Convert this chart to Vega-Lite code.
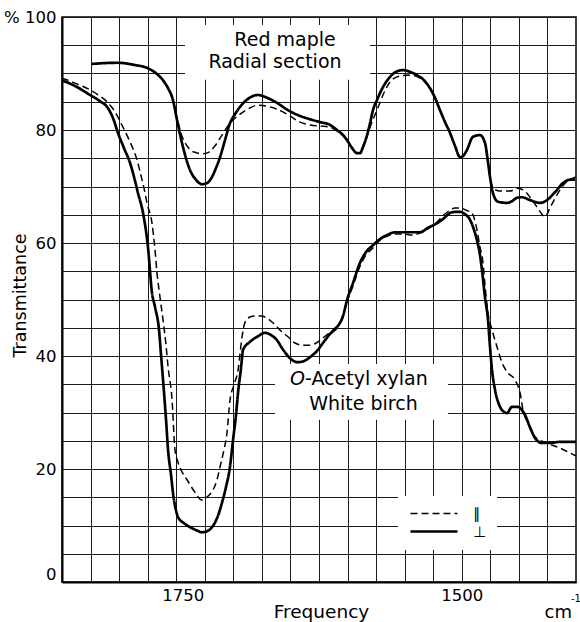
{
  "$schema": "https://vega.github.io/schema/vega-lite/v6.json",
  "autosize": {"type": "none"},
  "width": 514,
  "height": 565,
  "padding": {"left": 62, "top": 17, "right": 4, "bottom": 40},
  "background": "white",
  "config": {
    "font": "DejaVu Sans",
    "view": {"stroke": "black", "strokeWidth": 1.5},
    "axis": {
      "domainColor": "black",
      "domainWidth": 2,
      "gridColor": "#1a1a1a",
      "gridWidth": 1,
      "gridOpacity": 1,
      "ticks": false,
      "labelColor": "black",
      "labelFont": "DejaVu Sans",
      "labelFontSize": 16.5,
      "titleFont": "DejaVu Sans",
      "titleColor": "black",
      "titleFontWeight": "normal",
      "labelOverlap": false,
      "labelFlush": false
    },
    "legend": {
      "orient": "none",
      "legendX": 336,
      "legendY": 479,
      "fillColor": "white",
      "padding": 10,
      "symbolType": "M-1,0H8.4",
      "symbolSize": 100,
      "symbolStrokeColor": "black",
      "labelFont": "DejaVu Sans",
      "labelFontSize": 15,
      "labelColor": "black",
      "labelOffset": 50,
      "rowPadding": 2
    }
  },
  "datasets": {
    "spectra": [
      {"freq": 1831.3, "trans": 91.7, "pol": "⊥", "sample": "Red maple"},
      {"freq": 1808.1, "trans": 91.9, "pol": "⊥", "sample": "Red maple"},
      {"freq": 1792.8, "trans": 91.5, "pol": "⊥", "sample": "Red maple"},
      {"freq": 1782.1, "trans": 91.0, "pol": "⊥", "sample": "Red maple"},
      {"freq": 1773.1, "trans": 89.9, "pol": "⊥", "sample": "Red maple"},
      {"freq": 1767.7, "trans": 88.8, "pol": "⊥", "sample": "Red maple"},
      {"freq": 1763.2, "trans": 87.4, "pol": "⊥", "sample": "Red maple"},
      {"freq": 1758.8, "trans": 85.3, "pol": "⊥", "sample": "Red maple"},
      {"freq": 1755.2, "trans": 81.8, "pol": "⊥", "sample": "Red maple"},
      {"freq": 1750.7, "trans": 77.7, "pol": "⊥", "sample": "Red maple"},
      {"freq": 1747.1, "trans": 75.0, "pol": "⊥", "sample": "Red maple"},
      {"freq": 1743.5, "trans": 72.9, "pol": "⊥", "sample": "Red maple"},
      {"freq": 1738.2, "trans": 71.2, "pol": "⊥", "sample": "Red maple"},
      {"freq": 1732.8, "trans": 70.4, "pol": "⊥", "sample": "Red maple"},
      {"freq": 1728.3, "trans": 70.6, "pol": "⊥", "sample": "Red maple"},
      {"freq": 1723.8, "trans": 71.7, "pol": "⊥", "sample": "Red maple"},
      {"freq": 1720.2, "trans": 73.3, "pol": "⊥", "sample": "Red maple"},
      {"freq": 1716.6, "trans": 75.2, "pol": "⊥", "sample": "Red maple"},
      {"freq": 1712.2, "trans": 78.2, "pol": "⊥", "sample": "Red maple"},
      {"freq": 1707.7, "trans": 81.2, "pol": "⊥", "sample": "Red maple"},
      {"freq": 1703.2, "trans": 82.8, "pol": "⊥", "sample": "Red maple"},
      {"freq": 1698.7, "trans": 84.1, "pol": "⊥", "sample": "Red maple"},
      {"freq": 1691.6, "trans": 85.5, "pol": "⊥", "sample": "Red maple"},
      {"freq": 1682.6, "trans": 86.2, "pol": "⊥", "sample": "Red maple"},
      {"freq": 1674.5, "trans": 85.7, "pol": "⊥", "sample": "Red maple"},
      {"freq": 1665.6, "trans": 84.8, "pol": "⊥", "sample": "Red maple"},
      {"freq": 1655.7, "trans": 83.5, "pol": "⊥", "sample": "Red maple"},
      {"freq": 1645.0, "trans": 82.5, "pol": "⊥", "sample": "Red maple"},
      {"freq": 1634.2, "trans": 81.8, "pol": "⊥", "sample": "Red maple"},
      {"freq": 1627.0, "trans": 81.4, "pol": "⊥", "sample": "Red maple"},
      {"freq": 1618.1, "trans": 80.9, "pol": "⊥", "sample": "Red maple"},
      {"freq": 1611.8, "trans": 80.0, "pol": "⊥", "sample": "Red maple"},
      {"freq": 1606.4, "trans": 79.1, "pol": "⊥", "sample": "Red maple"},
      {"freq": 1602.8, "trans": 78.2, "pol": "⊥", "sample": "Red maple"},
      {"freq": 1598.3, "trans": 76.8, "pol": "⊥", "sample": "Red maple"},
      {"freq": 1593.9, "trans": 75.9, "pol": "⊥", "sample": "Red maple"},
      {"freq": 1591.2, "trans": 75.9, "pol": "⊥", "sample": "Red maple"},
      {"freq": 1588.5, "trans": 77.0, "pol": "⊥", "sample": "Red maple"},
      {"freq": 1584.9, "trans": 79.1, "pol": "⊥", "sample": "Red maple"},
      {"freq": 1582.2, "trans": 81.2, "pol": "⊥", "sample": "Red maple"},
      {"freq": 1579.6, "trans": 83.5, "pol": "⊥", "sample": "Red maple"},
      {"freq": 1576.0, "trans": 85.3, "pol": "⊥", "sample": "Red maple"},
      {"freq": 1570.6, "trans": 87.6, "pol": "⊥", "sample": "Red maple"},
      {"freq": 1564.3, "trans": 89.4, "pol": "⊥", "sample": "Red maple"},
      {"freq": 1558.9, "trans": 90.3, "pol": "⊥", "sample": "Red maple"},
      {"freq": 1552.7, "trans": 90.6, "pol": "⊥", "sample": "Red maple"},
      {"freq": 1546.4, "trans": 90.3, "pol": "⊥", "sample": "Red maple"},
      {"freq": 1540.1, "trans": 89.7, "pol": "⊥", "sample": "Red maple"},
      {"freq": 1533.8, "trans": 88.8, "pol": "⊥", "sample": "Red maple"},
      {"freq": 1528.5, "trans": 87.4, "pol": "⊥", "sample": "Red maple"},
      {"freq": 1524.0, "trans": 85.7, "pol": "⊥", "sample": "Red maple"},
      {"freq": 1519.5, "trans": 83.5, "pol": "⊥", "sample": "Red maple"},
      {"freq": 1515.0, "trans": 81.4, "pol": "⊥", "sample": "Red maple"},
      {"freq": 1510.6, "trans": 79.5, "pol": "⊥", "sample": "Red maple"},
      {"freq": 1506.1, "trans": 77.2, "pol": "⊥", "sample": "Red maple"},
      {"freq": 1501.6, "trans": 75.2, "pol": "⊥", "sample": "Red maple"},
      {"freq": 1498.9, "trans": 75.4, "pol": "⊥", "sample": "Red maple"},
      {"freq": 1495.3, "trans": 76.5, "pol": "⊥", "sample": "Red maple"},
      {"freq": 1490.0, "trans": 78.8, "pol": "⊥", "sample": "Red maple"},
      {"freq": 1483.7, "trans": 79.1, "pol": "⊥", "sample": "Red maple"},
      {"freq": 1479.2, "trans": 77.7, "pol": "⊥", "sample": "Red maple"},
      {"freq": 1476.5, "trans": 74.3, "pol": "⊥", "sample": "Red maple"},
      {"freq": 1474.7, "trans": 71.7, "pol": "⊥", "sample": "Red maple"},
      {"freq": 1472.0, "trans": 68.8, "pol": "⊥", "sample": "Red maple"},
      {"freq": 1467.5, "trans": 67.3, "pol": "⊥", "sample": "Red maple"},
      {"freq": 1459.5, "trans": 67.1, "pol": "⊥", "sample": "Red maple"},
      {"freq": 1455.0, "trans": 67.4, "pol": "⊥", "sample": "Red maple"},
      {"freq": 1450.5, "trans": 68.0, "pol": "⊥", "sample": "Red maple"},
      {"freq": 1446.0, "trans": 68.1, "pol": "⊥", "sample": "Red maple"},
      {"freq": 1438.9, "trans": 67.6, "pol": "⊥", "sample": "Red maple"},
      {"freq": 1429.9, "trans": 67.1, "pol": "⊥", "sample": "Red maple"},
      {"freq": 1423.6, "trans": 67.6, "pol": "⊥", "sample": "Red maple"},
      {"freq": 1416.5, "trans": 69.0, "pol": "⊥", "sample": "Red maple"},
      {"freq": 1409.3, "trans": 70.6, "pol": "⊥", "sample": "Red maple"},
      {"freq": 1403.0, "trans": 71.2, "pol": "⊥", "sample": "Red maple"},
      {"freq": 1398.5, "trans": 71.2, "pol": "⊥", "sample": "Red maple"},

      {"freq": 1831.3, "trans": 91.7, "pol": "∥", "sample": "Red maple"},
      {"freq": 1808.1, "trans": 91.9, "pol": "∥", "sample": "Red maple"},
      {"freq": 1792.8, "trans": 91.5, "pol": "∥", "sample": "Red maple"},
      {"freq": 1782.1, "trans": 91.0, "pol": "∥", "sample": "Red maple"},
      {"freq": 1773.1, "trans": 89.9, "pol": "∥", "sample": "Red maple"},
      {"freq": 1767.7, "trans": 88.8, "pol": "∥", "sample": "Red maple"},
      {"freq": 1763.2, "trans": 87.4, "pol": "∥", "sample": "Red maple"},
      {"freq": 1758.8, "trans": 85.3, "pol": "∥", "sample": "Red maple"},
      {"freq": 1754.3, "trans": 81.4, "pol": "∥", "sample": "Red maple"},
      {"freq": 1750.7, "trans": 78.9, "pol": "∥", "sample": "Red maple"},
      {"freq": 1746.2, "trans": 77.2, "pol": "∥", "sample": "Red maple"},
      {"freq": 1739.9, "trans": 76.1, "pol": "∥", "sample": "Red maple"},
      {"freq": 1731.9, "trans": 75.8, "pol": "∥", "sample": "Red maple"},
      {"freq": 1726.5, "trans": 76.1, "pol": "∥", "sample": "Red maple"},
      {"freq": 1721.1, "trans": 77.2, "pol": "∥", "sample": "Red maple"},
      {"freq": 1714.9, "trans": 79.1, "pol": "∥", "sample": "Red maple"},
      {"freq": 1707.7, "trans": 81.2, "pol": "∥", "sample": "Red maple"},
      {"freq": 1698.7, "trans": 82.8, "pol": "∥", "sample": "Red maple"},
      {"freq": 1689.8, "trans": 83.9, "pol": "∥", "sample": "Red maple"},
      {"freq": 1682.6, "trans": 84.4, "pol": "∥", "sample": "Red maple"},
      {"freq": 1674.5, "trans": 84.2, "pol": "∥", "sample": "Red maple"},
      {"freq": 1665.6, "trans": 83.7, "pol": "∥", "sample": "Red maple"},
      {"freq": 1655.7, "trans": 82.7, "pol": "∥", "sample": "Red maple"},
      {"freq": 1645.0, "trans": 81.4, "pol": "∥", "sample": "Red maple"},
      {"freq": 1636.0, "trans": 80.9, "pol": "∥", "sample": "Red maple"},
      {"freq": 1627.0, "trans": 80.7, "pol": "∥", "sample": "Red maple"},
      {"freq": 1618.1, "trans": 80.5, "pol": "∥", "sample": "Red maple"},
      {"freq": 1611.8, "trans": 79.8, "pol": "∥", "sample": "Red maple"},
      {"freq": 1606.4, "trans": 79.0, "pol": "∥", "sample": "Red maple"},
      {"freq": 1602.8, "trans": 78.1, "pol": "∥", "sample": "Red maple"},
      {"freq": 1598.3, "trans": 76.8, "pol": "∥", "sample": "Red maple"},
      {"freq": 1593.9, "trans": 75.9, "pol": "∥", "sample": "Red maple"},
      {"freq": 1591.2, "trans": 75.9, "pol": "∥", "sample": "Red maple"},
      {"freq": 1588.5, "trans": 77.0, "pol": "∥", "sample": "Red maple"},
      {"freq": 1584.9, "trans": 78.9, "pol": "∥", "sample": "Red maple"},
      {"freq": 1582.2, "trans": 80.5, "pol": "∥", "sample": "Red maple"},
      {"freq": 1576.0, "trans": 83.5, "pol": "∥", "sample": "Red maple"},
      {"freq": 1570.6, "trans": 86.2, "pol": "∥", "sample": "Red maple"},
      {"freq": 1564.3, "trans": 88.5, "pol": "∥", "sample": "Red maple"},
      {"freq": 1558.0, "trans": 89.4, "pol": "∥", "sample": "Red maple"},
      {"freq": 1549.1, "trans": 89.7, "pol": "∥", "sample": "Red maple"},
      {"freq": 1542.0, "trans": 89.6, "pol": "∥", "sample": "Red maple"},
      {"freq": 1537.4, "trans": 89.2, "pol": "∥", "sample": "Red maple"},
      {"freq": 1532.0, "trans": 88.3, "pol": "∥", "sample": "Red maple"},
      {"freq": 1528.5, "trans": 87.4, "pol": "∥", "sample": "Red maple"},
      {"freq": 1524.0, "trans": 85.7, "pol": "∥", "sample": "Red maple"},
      {"freq": 1519.5, "trans": 83.5, "pol": "∥", "sample": "Red maple"},
      {"freq": 1515.0, "trans": 81.4, "pol": "∥", "sample": "Red maple"},
      {"freq": 1510.6, "trans": 79.5, "pol": "∥", "sample": "Red maple"},
      {"freq": 1506.1, "trans": 77.2, "pol": "∥", "sample": "Red maple"},
      {"freq": 1501.6, "trans": 75.2, "pol": "∥", "sample": "Red maple"},
      {"freq": 1498.9, "trans": 75.4, "pol": "∥", "sample": "Red maple"},
      {"freq": 1495.3, "trans": 76.5, "pol": "∥", "sample": "Red maple"},
      {"freq": 1490.0, "trans": 78.8, "pol": "∥", "sample": "Red maple"},
      {"freq": 1483.7, "trans": 79.1, "pol": "∥", "sample": "Red maple"},
      {"freq": 1479.2, "trans": 77.7, "pol": "∥", "sample": "Red maple"},
      {"freq": 1476.5, "trans": 74.3, "pol": "∥", "sample": "Red maple"},
      {"freq": 1474.7, "trans": 71.7, "pol": "∥", "sample": "Red maple"},
      {"freq": 1472.0, "trans": 69.7, "pol": "∥", "sample": "Red maple"},
      {"freq": 1465.8, "trans": 69.2, "pol": "∥", "sample": "Red maple"},
      {"freq": 1456.8, "trans": 69.2, "pol": "∥", "sample": "Red maple"},
      {"freq": 1449.6, "trans": 69.7, "pol": "∥", "sample": "Red maple"},
      {"freq": 1441.6, "trans": 68.8, "pol": "∥", "sample": "Red maple"},
      {"freq": 1437.1, "trans": 67.6, "pol": "∥", "sample": "Red maple"},
      {"freq": 1432.7, "trans": 66.4, "pol": "∥", "sample": "Red maple"},
      {"freq": 1429.0, "trans": 65.3, "pol": "∥", "sample": "Red maple"},
      {"freq": 1425.4, "trans": 64.6, "pol": "∥", "sample": "Red maple"},
      {"freq": 1421.0, "trans": 66.2, "pol": "∥", "sample": "Red maple"},
      {"freq": 1414.7, "trans": 68.5, "pol": "∥", "sample": "Red maple"},
      {"freq": 1407.5, "trans": 70.6, "pol": "∥", "sample": "Red maple"},
      {"freq": 1400.3, "trans": 71.5, "pol": "∥", "sample": "Red maple"},
      {"freq": 1397.7, "trans": 71.7, "pol": "∥", "sample": "Red maple"},

      {"freq": 1858.2, "trans": 88.8, "pol": "⊥", "sample": "White birch"},
      {"freq": 1846.6, "trans": 87.8, "pol": "⊥", "sample": "White birch"},
      {"freq": 1833.1, "trans": 86.2, "pol": "⊥", "sample": "White birch"},
      {"freq": 1824.2, "trans": 85.1, "pol": "⊥", "sample": "White birch"},
      {"freq": 1817.9, "trans": 84.1, "pol": "⊥", "sample": "White birch"},
      {"freq": 1812.5, "trans": 82.1, "pol": "⊥", "sample": "White birch"},
      {"freq": 1808.1, "trans": 79.5, "pol": "⊥", "sample": "White birch"},
      {"freq": 1802.7, "trans": 76.8, "pol": "⊥", "sample": "White birch"},
      {"freq": 1797.3, "trans": 74.2, "pol": "⊥", "sample": "White birch"},
      {"freq": 1793.7, "trans": 71.7, "pol": "⊥", "sample": "White birch"},
      {"freq": 1790.1, "trans": 68.8, "pol": "⊥", "sample": "White birch"},
      {"freq": 1785.6, "trans": 65.3, "pol": "⊥", "sample": "White birch"},
      {"freq": 1781.2, "trans": 59.3, "pol": "⊥", "sample": "White birch"},
      {"freq": 1777.6, "trans": 51.2, "pol": "⊥", "sample": "White birch"},
      {"freq": 1774.9, "trans": 48.7, "pol": "⊥", "sample": "White birch"},
      {"freq": 1771.3, "trans": 44.6, "pol": "⊥", "sample": "White birch"},
      {"freq": 1769.5, "trans": 40.2, "pol": "⊥", "sample": "White birch"},
      {"freq": 1767.7, "trans": 35.8, "pol": "⊥", "sample": "White birch"},
      {"freq": 1765.0, "trans": 28.7, "pol": "⊥", "sample": "White birch"},
      {"freq": 1763.2, "trans": 23.4, "pol": "⊥", "sample": "White birch"},
      {"freq": 1760.5, "trans": 18.9, "pol": "⊥", "sample": "White birch"},
      {"freq": 1758.8, "trans": 15.8, "pol": "⊥", "sample": "White birch"},
      {"freq": 1756.1, "trans": 12.7, "pol": "⊥", "sample": "White birch"},
      {"freq": 1754.3, "trans": 11.5, "pol": "⊥", "sample": "White birch"},
      {"freq": 1748.9, "trans": 10.4, "pol": "⊥", "sample": "White birch"},
      {"freq": 1743.5, "trans": 9.7, "pol": "⊥", "sample": "White birch"},
      {"freq": 1738.2, "trans": 9.2, "pol": "⊥", "sample": "White birch"},
      {"freq": 1732.8, "trans": 8.8, "pol": "⊥", "sample": "White birch"},
      {"freq": 1728.3, "trans": 9.0, "pol": "⊥", "sample": "White birch"},
      {"freq": 1723.8, "trans": 9.7, "pol": "⊥", "sample": "White birch"},
      {"freq": 1719.3, "trans": 11.3, "pol": "⊥", "sample": "White birch"},
      {"freq": 1714.9, "trans": 14.0, "pol": "⊥", "sample": "White birch"},
      {"freq": 1711.3, "trans": 16.8, "pol": "⊥", "sample": "White birch"},
      {"freq": 1707.7, "trans": 20.4, "pol": "⊥", "sample": "White birch"},
      {"freq": 1705.0, "trans": 25.1, "pol": "⊥", "sample": "White birch"},
      {"freq": 1702.3, "trans": 29.6, "pol": "⊥", "sample": "White birch"},
      {"freq": 1700.5, "trans": 33.5, "pol": "⊥", "sample": "White birch"},
      {"freq": 1697.8, "trans": 37.9, "pol": "⊥", "sample": "White birch"},
      {"freq": 1696.0, "trans": 41.1, "pol": "⊥", "sample": "White birch"},
      {"freq": 1689.8, "trans": 42.5, "pol": "⊥", "sample": "White birch"},
      {"freq": 1682.6, "trans": 43.5, "pol": "⊥", "sample": "White birch"},
      {"freq": 1676.3, "trans": 44.1, "pol": "⊥", "sample": "White birch"},
      {"freq": 1670.9, "trans": 43.7, "pol": "⊥", "sample": "White birch"},
      {"freq": 1665.6, "trans": 42.8, "pol": "⊥", "sample": "White birch"},
      {"freq": 1661.1, "trans": 41.4, "pol": "⊥", "sample": "White birch"},
      {"freq": 1656.6, "trans": 40.2, "pol": "⊥", "sample": "White birch"},
      {"freq": 1652.1, "trans": 39.3, "pol": "⊥", "sample": "White birch"},
      {"freq": 1646.8, "trans": 38.9, "pol": "⊥", "sample": "White birch"},
      {"freq": 1641.4, "trans": 39.1, "pol": "⊥", "sample": "White birch"},
      {"freq": 1636.0, "trans": 39.8, "pol": "⊥", "sample": "White birch"},
      {"freq": 1629.7, "trans": 40.9, "pol": "⊥", "sample": "White birch"},
      {"freq": 1624.4, "trans": 42.3, "pol": "⊥", "sample": "White birch"},
      {"freq": 1618.1, "trans": 43.9, "pol": "⊥", "sample": "White birch"},
      {"freq": 1611.8, "trans": 45.1, "pol": "⊥", "sample": "White birch"},
      {"freq": 1606.4, "trans": 47.1, "pol": "⊥", "sample": "White birch"},
      {"freq": 1602.8, "trans": 49.9, "pol": "⊥", "sample": "White birch"},
      {"freq": 1597.5, "trans": 52.9, "pol": "⊥", "sample": "White birch"},
      {"freq": 1591.2, "trans": 56.5, "pol": "⊥", "sample": "White birch"},
      {"freq": 1585.8, "trans": 58.4, "pol": "⊥", "sample": "White birch"},
      {"freq": 1579.6, "trans": 59.6, "pol": "⊥", "sample": "White birch"},
      {"freq": 1573.3, "trans": 60.7, "pol": "⊥", "sample": "White birch"},
      {"freq": 1567.0, "trans": 61.4, "pol": "⊥", "sample": "White birch"},
      {"freq": 1559.9, "trans": 61.9, "pol": "⊥", "sample": "White birch"},
      {"freq": 1552.7, "trans": 61.9, "pol": "⊥", "sample": "White birch"},
      {"freq": 1544.6, "trans": 61.9, "pol": "⊥", "sample": "White birch"},
      {"freq": 1537.4, "trans": 61.9, "pol": "⊥", "sample": "White birch"},
      {"freq": 1530.3, "trans": 62.7, "pol": "⊥", "sample": "White birch"},
      {"freq": 1522.2, "trans": 63.5, "pol": "⊥", "sample": "White birch"},
      {"freq": 1515.9, "trans": 64.4, "pol": "⊥", "sample": "White birch"},
      {"freq": 1510.6, "trans": 65.3, "pol": "⊥", "sample": "White birch"},
      {"freq": 1506.1, "trans": 65.5, "pol": "⊥", "sample": "White birch"},
      {"freq": 1501.6, "trans": 65.5, "pol": "⊥", "sample": "White birch"},
      {"freq": 1497.1, "trans": 65.1, "pol": "⊥", "sample": "White birch"},
      {"freq": 1492.6, "trans": 64.1, "pol": "⊥", "sample": "White birch"},
      {"freq": 1489.0, "trans": 62.3, "pol": "⊥", "sample": "White birch"},
      {"freq": 1486.4, "trans": 60.5, "pol": "⊥", "sample": "White birch"},
      {"freq": 1483.7, "trans": 57.9, "pol": "⊥", "sample": "White birch"},
      {"freq": 1481.9, "trans": 55.2, "pol": "⊥", "sample": "White birch"},
      {"freq": 1479.2, "trans": 50.4, "pol": "⊥", "sample": "White birch"},
      {"freq": 1476.5, "trans": 46.4, "pol": "⊥", "sample": "White birch"},
      {"freq": 1474.7, "trans": 41.6, "pol": "⊥", "sample": "White birch"},
      {"freq": 1472.9, "trans": 37.5, "pol": "⊥", "sample": "White birch"},
      {"freq": 1470.2, "trans": 34.0, "pol": "⊥", "sample": "White birch"},
      {"freq": 1465.7, "trans": 31.0, "pol": "⊥", "sample": "White birch"},
      {"freq": 1462.2, "trans": 30.1, "pol": "⊥", "sample": "White birch"},
      {"freq": 1459.5, "trans": 29.9, "pol": "⊥", "sample": "White birch"},
      {"freq": 1455.0, "trans": 31.0, "pol": "⊥", "sample": "White birch"},
      {"freq": 1449.6, "trans": 31.0, "pol": "⊥", "sample": "White birch"},
      {"freq": 1446.0, "trans": 30.4, "pol": "⊥", "sample": "White birch"},
      {"freq": 1443.4, "trans": 29.6, "pol": "⊥", "sample": "White birch"},
      {"freq": 1438.9, "trans": 27.4, "pol": "⊥", "sample": "White birch"},
      {"freq": 1434.4, "trans": 25.5, "pol": "⊥", "sample": "White birch"},
      {"freq": 1428.1, "trans": 24.6, "pol": "⊥", "sample": "White birch"},
      {"freq": 1421.0, "trans": 24.6, "pol": "⊥", "sample": "White birch"},
      {"freq": 1412.0, "trans": 24.8, "pol": "⊥", "sample": "White birch"},
      {"freq": 1397.7, "trans": 24.8, "pol": "⊥", "sample": "White birch"},

      {"freq": 1858.2, "trans": 89.2, "pol": "∥", "sample": "White birch"},
      {"freq": 1846.6, "trans": 88.3, "pol": "∥", "sample": "White birch"},
      {"freq": 1833.1, "trans": 87.1, "pol": "∥", "sample": "White birch"},
      {"freq": 1824.2, "trans": 86.0, "pol": "∥", "sample": "White birch"},
      {"freq": 1817.9, "trans": 85.0, "pol": "∥", "sample": "White birch"},
      {"freq": 1810.7, "trans": 83.2, "pol": "∥", "sample": "White birch"},
      {"freq": 1803.6, "trans": 80.5, "pol": "∥", "sample": "White birch"},
      {"freq": 1797.3, "trans": 77.9, "pol": "∥", "sample": "White birch"},
      {"freq": 1791.0, "trans": 74.7, "pol": "∥", "sample": "White birch"},
      {"freq": 1787.4, "trans": 71.9, "pol": "∥", "sample": "White birch"},
      {"freq": 1783.8, "trans": 68.8, "pol": "∥", "sample": "White birch"},
      {"freq": 1782.1, "trans": 67.1, "pol": "∥", "sample": "White birch"},
      {"freq": 1777.6, "trans": 63.5, "pol": "∥", "sample": "White birch"},
      {"freq": 1774.9, "trans": 58.8, "pol": "∥", "sample": "White birch"},
      {"freq": 1773.1, "trans": 54.7, "pol": "∥", "sample": "White birch"},
      {"freq": 1770.4, "trans": 50.4, "pol": "∥", "sample": "White birch"},
      {"freq": 1767.7, "trans": 46.4, "pol": "∥", "sample": "White birch"},
      {"freq": 1765.0, "trans": 41.9, "pol": "∥", "sample": "White birch"},
      {"freq": 1763.2, "trans": 38.1, "pol": "∥", "sample": "White birch"},
      {"freq": 1759.6, "trans": 32.2, "pol": "∥", "sample": "White birch"},
      {"freq": 1757.0, "trans": 23.4, "pol": "∥", "sample": "White birch"},
      {"freq": 1754.3, "trans": 21.2, "pol": "∥", "sample": "White birch"},
      {"freq": 1750.7, "trans": 19.5, "pol": "∥", "sample": "White birch"},
      {"freq": 1746.2, "trans": 18.1, "pol": "∥", "sample": "White birch"},
      {"freq": 1739.9, "trans": 16.1, "pol": "∥", "sample": "White birch"},
      {"freq": 1732.8, "trans": 14.5, "pol": "∥", "sample": "White birch"},
      {"freq": 1727.4, "trans": 15.2, "pol": "∥", "sample": "White birch"},
      {"freq": 1722.9, "trans": 16.3, "pol": "∥", "sample": "White birch"},
      {"freq": 1719.3, "trans": 18.1, "pol": "∥", "sample": "White birch"},
      {"freq": 1716.6, "trans": 20.4, "pol": "∥", "sample": "White birch"},
      {"freq": 1713.1, "trans": 23.4, "pol": "∥", "sample": "White birch"},
      {"freq": 1710.4, "trans": 26.4, "pol": "∥", "sample": "White birch"},
      {"freq": 1707.7, "trans": 32.2, "pol": "∥", "sample": "White birch"},
      {"freq": 1704.1, "trans": 34.9, "pol": "∥", "sample": "White birch"},
      {"freq": 1700.5, "trans": 37.5, "pol": "∥", "sample": "White birch"},
      {"freq": 1696.9, "trans": 43.4, "pol": "∥", "sample": "White birch"},
      {"freq": 1694.2, "trans": 46.0, "pol": "∥", "sample": "White birch"},
      {"freq": 1689.8, "trans": 46.9, "pol": "∥", "sample": "White birch"},
      {"freq": 1685.3, "trans": 47.1, "pol": "∥", "sample": "White birch"},
      {"freq": 1679.9, "trans": 47.1, "pol": "∥", "sample": "White birch"},
      {"freq": 1674.5, "trans": 46.7, "pol": "∥", "sample": "White birch"},
      {"freq": 1668.2, "trans": 45.7, "pol": "∥", "sample": "White birch"},
      {"freq": 1662.9, "trans": 44.6, "pol": "∥", "sample": "White birch"},
      {"freq": 1655.7, "trans": 43.4, "pol": "∥", "sample": "White birch"},
      {"freq": 1649.5, "trans": 42.3, "pol": "∥", "sample": "White birch"},
      {"freq": 1642.3, "trans": 41.9, "pol": "∥", "sample": "White birch"},
      {"freq": 1636.0, "trans": 41.9, "pol": "∥", "sample": "White birch"},
      {"freq": 1628.8, "trans": 42.5, "pol": "∥", "sample": "White birch"},
      {"freq": 1624.4, "trans": 43.2, "pol": "∥", "sample": "White birch"},
      {"freq": 1618.1, "trans": 44.2, "pol": "∥", "sample": "White birch"},
      {"freq": 1611.8, "trans": 45.3, "pol": "∥", "sample": "White birch"},
      {"freq": 1606.4, "trans": 47.1, "pol": "∥", "sample": "White birch"},
      {"freq": 1602.8, "trans": 49.6, "pol": "∥", "sample": "White birch"},
      {"freq": 1597.5, "trans": 52.4, "pol": "∥", "sample": "White birch"},
      {"freq": 1591.2, "trans": 55.9, "pol": "∥", "sample": "White birch"},
      {"freq": 1585.8, "trans": 57.9, "pol": "∥", "sample": "White birch"},
      {"freq": 1579.6, "trans": 59.1, "pol": "∥", "sample": "White birch"},
      {"freq": 1573.3, "trans": 60.5, "pol": "∥", "sample": "White birch"},
      {"freq": 1567.0, "trans": 61.2, "pol": "∥", "sample": "White birch"},
      {"freq": 1559.9, "trans": 61.6, "pol": "∥", "sample": "White birch"},
      {"freq": 1552.7, "trans": 61.6, "pol": "∥", "sample": "White birch"},
      {"freq": 1544.6, "trans": 61.4, "pol": "∥", "sample": "White birch"},
      {"freq": 1537.4, "trans": 61.8, "pol": "∥", "sample": "White birch"},
      {"freq": 1530.3, "trans": 62.5, "pol": "∥", "sample": "White birch"},
      {"freq": 1522.2, "trans": 63.7, "pol": "∥", "sample": "White birch"},
      {"freq": 1515.9, "trans": 65.0, "pol": "∥", "sample": "White birch"},
      {"freq": 1510.6, "trans": 65.8, "pol": "∥", "sample": "White birch"},
      {"freq": 1506.1, "trans": 66.2, "pol": "∥", "sample": "White birch"},
      {"freq": 1501.6, "trans": 66.2, "pol": "∥", "sample": "White birch"},
      {"freq": 1496.2, "trans": 65.8, "pol": "∥", "sample": "White birch"},
      {"freq": 1490.9, "trans": 65.3, "pol": "∥", "sample": "White birch"},
      {"freq": 1487.3, "trans": 63.2, "pol": "∥", "sample": "White birch"},
      {"freq": 1483.7, "trans": 59.3, "pol": "∥", "sample": "White birch"},
      {"freq": 1481.0, "trans": 56.5, "pol": "∥", "sample": "White birch"},
      {"freq": 1479.2, "trans": 52.6, "pol": "∥", "sample": "White birch"},
      {"freq": 1476.5, "trans": 47.6, "pol": "∥", "sample": "White birch"},
      {"freq": 1472.9, "trans": 44.6, "pol": "∥", "sample": "White birch"},
      {"freq": 1468.4, "trans": 41.6, "pol": "∥", "sample": "White birch"},
      {"freq": 1463.9, "trans": 38.8, "pol": "∥", "sample": "White birch"},
      {"freq": 1458.6, "trans": 37.0, "pol": "∥", "sample": "White birch"},
      {"freq": 1452.3, "trans": 35.8, "pol": "∥", "sample": "White birch"},
      {"freq": 1447.8, "trans": 33.5, "pol": "∥", "sample": "White birch"},
      {"freq": 1445.1, "trans": 30.4, "pol": "∥", "sample": "White birch"},
      {"freq": 1440.7, "trans": 28.1, "pol": "∥", "sample": "White birch"},
      {"freq": 1434.4, "trans": 25.7, "pol": "∥", "sample": "White birch"},
      {"freq": 1423.6, "trans": 24.6, "pol": "∥", "sample": "White birch"},
      {"freq": 1412.0, "trans": 23.7, "pol": "∥", "sample": "White birch"},
      {"freq": 1397.7, "trans": 22.3, "pol": "∥", "sample": "White birch"}
    ]
  },
  "encoding": {
    "x": {
      "field": "freq",
      "type": "quantitative",
      "scale": {"domain": [1397.65, 1858.23], "reverse": true, "nice": false, "zero": false},
      "axis": {
        "title": "Frequency",
        "titleFontSize": 18.5,
        "titleX": 259,
        "titleY": 35,
        "titleAlign": "center",
        "titleBaseline": "alphabetic",
        "values": [1832.64, 1807.06, 1781.47, 1755.88, 1750, 1730.29, 1704.70, 1679.12, 1653.53, 1627.94, 1602.35, 1576.76, 1551.18, 1525.59, 1500, 1474.41, 1448.82, 1423.24],
        "labelExpr": "datum.value === 1750 || datum.value === 1500 ? format(datum.value, 'd') : ''",
        "gridOpacity": {"condition": {"test": "datum.value === 1750", "value": 0}, "value": 1},
        "labelPadding": 5,
        "labelBaseline": "top"
      }
    },
    "y": {
      "field": "trans",
      "type": "quantitative",
      "scale": {"domain": [0, 100], "nice": false, "zero": true},
      "axis": {
        "title": "Transmittance",
        "titleFontSize": 17.5,
        "titleX": -42,
        "titleY": 278,
        "titleAngle": -90,
        "titleAlign": "center",
        "titleBaseline": "middle",
        "values": [0, 5, 10, 15, 20, 25, 30, 35, 40, 45, 50, 55, 60, 65, 70, 75, 80, 85, 90, 95, 100],
        "labelExpr": "datum.value % 20 === 0 ? (datum.value === 100 ? '% 100' : format(datum.value, 'd')) : ''",
        "labelPadding": 6,
        "labelBaseline": {"condition": {"test": "datum.value === 0", "value": "bottom"}, "value": "middle"}
      }
    }
  },
  "layer": [
    {
      "data": {"values": [
        {"freq": 1748.0, "freq2": 1582.2, "trans": 88.9, "trans2": 98.6},
        {"freq": 1667.4, "freq2": 1512.4, "trans": 28.7, "trans2": 38.6}
      ]},
      "mark": {"type": "rect", "fill": "white", "stroke": null},
      "encoding": {
        "x2": {"field": "freq2"},
        "y2": {"field": "trans2"}
      }
    },
    {
      "data": {"name": "spectra"},
      "mark": {"type": "line", "color": "black", "interpolate": "monotone", "strokeCap": "butt", "strokeJoin": "round"},
      "encoding": {
        "detail": {"field": "sample"},
        "strokeDash": {
          "field": "pol",
          "type": "nominal",
          "scale": {"domain": ["∥", "⊥"], "range": [[7, 4], [1, 0]]},
          "legend": {"title": null}
        },
        "strokeWidth": {
          "field": "pol",
          "type": "nominal",
          "scale": {"domain": ["∥", "⊥"], "range": [1.5, 2.7]},
          "legend": {"title": null}
        }
      }
    },
    {
      "data": {"values": [
        {"label": "Red maple", "freq": 1658.4, "trans": 94.9},
        {"label": "Radial section", "freq": 1667.4, "trans": 91.0},
        {"label": "White birch", "freq": 1588.1, "trans": 30.4}
      ]},
      "mark": {"type": "text", "fontSize": 19, "align": "center", "baseline": "alphabetic", "color": "black"},
      "encoding": {"text": {"field": "label"}}
    },
    {
      "data": {"values": [{"label": "O", "freq": 1640.5, "trans": 34.9}]},
      "mark": {"type": "text", "fontSize": 19, "fontStyle": "italic", "align": "right", "baseline": "alphabetic", "color": "black"},
      "encoding": {"text": {"field": "label"}}
    },
    {
      "data": {"values": [{"label": "-Acetyl xylan", "freq": 1640.5, "trans": 34.9}]},
      "mark": {"type": "text", "fontSize": 19, "align": "left", "baseline": "alphabetic", "color": "black"},
      "encoding": {"text": {"field": "label"}}
    },
    {
      "data": {"values": [{"label": "cm", "freq": 1401.2, "trans": -6.4}]},
      "mark": {"type": "text", "fontSize": 18, "align": "right", "baseline": "alphabetic", "color": "black"},
      "encoding": {"text": {"field": "label"}}
    },
    {
      "data": {"values": [{"label": "-1", "freq": 1393.2, "trans": -3.6}]},
      "mark": {"type": "text", "fontSize": 10, "align": "right", "baseline": "alphabetic", "color": "black"},
      "encoding": {"text": {"field": "label"}}
    }
  ]
}
